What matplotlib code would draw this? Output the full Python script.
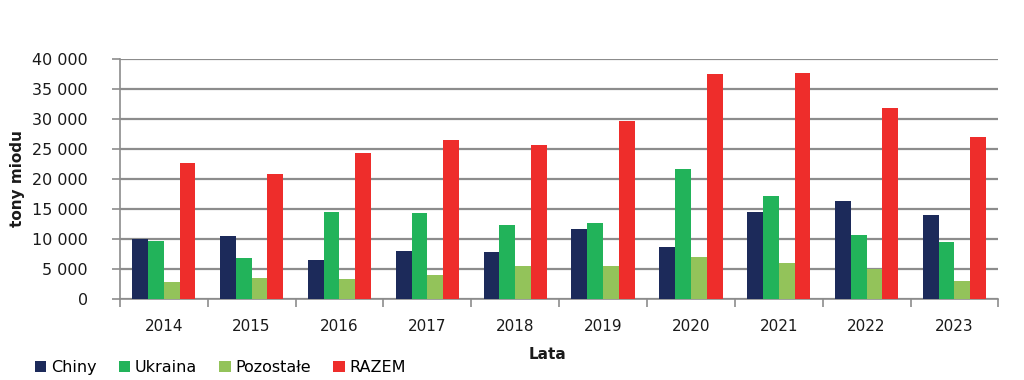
import numpy as np
import matplotlib.pyplot as plt
from matplotlib.ticker import FuncFormatter, MultipleLocator

# ---- dane ----
lata = ['2014', '2015', '2016', '2017', '2018', '2019', '2020', '2021', '2022', '2023']
chiny = [10000, 10500, 6550, 8050, 7800, 11600, 8600, 14500, 16350, 14050]
ukraina = [9600, 6800, 14500, 14350, 12300, 12600, 21600, 17100, 10600, 9550]
pozostale = [2800, 3550, 3300, 4050, 5550, 5550, 7050, 6050, 4950, 3050]
razem = [22600, 20850, 24350, 26400, 25600, 29600, 37350, 37600, 31850, 26900]

serie = [('Chiny', chiny, '#1c2a5a'),
         ('Ukraina', ukraina, '#22b35a'),
         ('Pozostałe', pozostale, '#93c35a'),
         ('RAZEM', razem, '#ee2d2b')]

GRID = '#8c8c8c'
TXT = '#1a1a1a'

fig = plt.figure(figsize=(10.24, 3.80), dpi=100, facecolor='white')
ax = fig.add_axes([0.117, 0.213, 0.858, 0.633])

x = np.arange(len(lata))
w = 0.18
for i, (name, vals, col) in enumerate(serie):
    ax.bar(x + (i - 1.5) * w, vals, width=w, color=col, label=name,
           zorder=3, linewidth=0)

ax.set_xlim(-0.5, len(lata) - 0.5)
ax.set_ylim(0, 40000)
ax.yaxis.set_major_locator(MultipleLocator(5000))
ax.yaxis.set_major_formatter(FuncFormatter(lambda v, p: f'{int(v):,}'.replace(',', ' ')))
ax.grid(axis='y', color=GRID, linewidth=1.6, zorder=0)

# osie w stylu Excela
for s in ['top', 'right']:
    ax.spines[s].set_visible(False)
for s in ['left', 'bottom']:
    ax.spines[s].set_color(GRID)
    ax.spines[s].set_linewidth(1.2)
ax.set_xticks(x)
ax.set_xticklabels(lata)
ax.set_xticks(np.arange(-0.5, len(lata)), minor=True)
ax.tick_params(axis='x', which='major', length=0, pad=14, labelsize=11, colors=TXT)
ax.tick_params(axis='x', which='minor', length=6, color=GRID, width=1.2)
ax.tick_params(axis='y', length=6, color=GRID, width=1.2, labelsize=11.5,
               colors=TXT, pad=17)

ax.set_ylabel('tony miodu', fontsize=11, fontweight='bold', color=TXT, labelpad=5)
ax.set_xlabel('Lata', fontsize=11, fontweight='bold', color=TXT)
ax.xaxis.set_label_coords(0.487, -0.2)

fig.legend(loc='lower left', bbox_to_anchor=(0.02, -0.025), ncol=4, frameon=False,
           fontsize=11.5, handlelength=0.7, handleheight=0.7, handletextpad=0.3,
           columnspacing=1.4)

plt.savefig('out.png', dpi=100, facecolor='white')
plt.close()
